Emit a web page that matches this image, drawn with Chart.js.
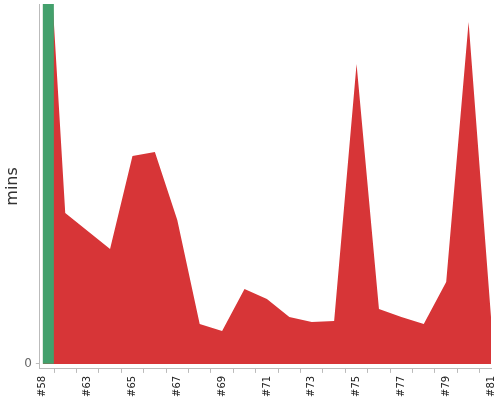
<!DOCTYPE html>
<html>
<head>
<meta charset="utf-8">
<script src="https://cdn.jsdelivr.net/npm/chart.js@4"></script>
<style>
html,body{margin:0;padding:0;background:#fff;}
#wrap{width:500px;height:400px;}
</style>
</head>
<body>
<div id="wrap"><canvas id="c" width="500" height="400"></canvas></div>
<script>
const builds = ["#58","#62","#63","#64","#65","#66","#67","#68","#69","#70","#71","#72","#73","#74","#75","#76","#77","#78","#79","#80","#81"];
const failedMins = [52.6,15.1,13.3,11.5,20.8,21.2,14.4,4.0,3.3,7.5,6.5,4.7,4.2,4.3,30.0,5.5,4.7,4.0,8.2,34.2,4.7];
const successMins = [60,null,null,null,null,null,null,null,null,null,null,null,null,null,null,null,null,null,null,null,null];
const yTickValues = [0];

const toPts = arr => arr.map((v, i) => ({x: i, y: v}));
const clip = {left: -3, top: 0, right: 0, bottom: 0};

new Chart(document.getElementById('c'), {
  data: {
    datasets: [
      {
        type: 'bar',
        label: 'success',
        data: toPts(successMins),
        backgroundColor: '#43a06c',
        borderWidth: 0,
        barThickness: 21.4,
        clip: clip,
        order: 1
      },
      {
        type: 'line',
        label: 'failed',
        data: toPts(failedMins),
        backgroundColor: '#d73537',
        borderColor: '#d73537',
        borderWidth: 0,
        pointRadius: 0,
        tension: 0,
        fill: 'origin',
        clip: clip,
        order: 2
      }
    ]
  },
  options: {
    responsive: false,
    animation: false,
    events: [],
    layout: {padding: {left: 2, right: 9, top: 4, bottom: 0}},
    plugins: {legend: {display: false}, tooltip: {enabled: false}},
    scales: {
      x: {
        type: 'linear',
        min: -0.134,
        max: 20,
        offset: false,
        afterFit: (s) => { s.paddingLeft = 0; s.paddingRight = 0; },
        grid: {display: true, drawOnChartArea: false, drawTicks: true, tickLength: 4, color: '#bbbbbb'},
        border: {display: true, color: '#bbbbbb'},
        ticks: {
          stepSize: 1,
          includeBounds: false,
          autoSkip: false,
          minRotation: 90,
          maxRotation: 90,
          padding: 3,
          color: '#222',
          font: {family: 'DejaVu Sans', size: 10},
          callback: (v) => (Number.isInteger(v) && v % 2 === 0 && builds[v] !== undefined) ? builds[v] : ''
        }
      },
      y: {
        type: 'linear',
        min: -0.5,
        max: 36,
        afterFit: (s) => { s.paddingTop = 0; s.paddingBottom = 0; },
        grid: {display: true, drawOnChartArea: false, drawTicks: true, tickLength: 4, color: '#bbbbbb'},
        border: {display: true, color: '#bbbbbb'},
        afterBuildTicks: (s) => { s.ticks = yTickValues.map(v => ({value: v})); },
        ticks: {
          padding: 4,
          color: '#666',
          font: {family: 'DejaVu Sans', size: 12}
        },
        title: {
          display: true,
          text: 'mins',
          color: '#333',
          font: {family: 'DejaVu Sans', size: 16},
          padding: {top: 1, bottom: -2}
        }
      }
    }
  }
});
</script>
</body>
</html>
